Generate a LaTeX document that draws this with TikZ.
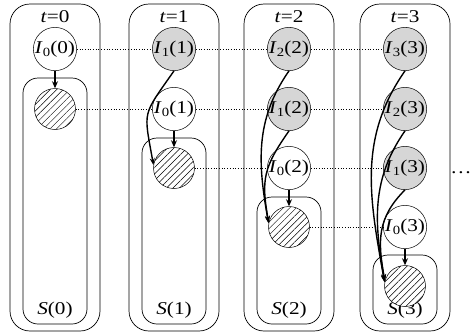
\documentclass[tikz,border=0pt]{standalone}
\usepackage{fontspec}
\setmainfont[FakeStretch=1.18]{Liberation Serif}
\usetikzlibrary{arrows.meta,patterns.meta}
\newcommand\sbs[1]{\raisebox{-0.35ex}{\fontsize{12.5}{12.5}\selectfont #1}}
\newcommand\Il[2]{\textit{I}\sbs{#1}(#2)}
\begin{document}
\begin{tikzpicture}[x=1pt,y=-1pt,
  txt/.style={font=\fontsize{18}{18}\selectfont,inner sep=0pt},
  st/.style={circle,draw,line width=0.5pt,minimum size=40pt,inner sep=0pt,font=\fontsize{18}{18}\selectfont},
  obs/.style={st,fill=black!16},
  hid/.style={st,fill=white},
  hat/.style={circle,draw,line width=0.5pt,minimum size=41pt,inner sep=0pt,preaction={fill=white},pattern={Lines[angle=45,distance=4.6pt,line width=0.5pt]}},
  outerbox/.style={draw,line width=0.7pt,rounded corners=20pt,minimum width=90pt,minimum height=327pt,inner sep=0pt},
  innerbox/.style={draw,line width=0.7pt,rounded corners=15pt,minimum width=64pt,inner sep=0pt},
  dots/.style={dotted,line width=0.7pt},
  sarr/.style={line width=1.2pt,-{Stealth[length=7pt,width=6pt]}},
  carr/.style={line width=1.4pt,-{Stealth[length=7pt,width=5pt]}}]
\useasboundingbox (0,0) rectangle (471,335);
% outer boxes
\node[outerbox] (B0) at (55,167.5) {};
\node[outerbox] (B1) at (174,167.5) {};
\node[outerbox] (B2) at (289,167.5) {};
\node[outerbox] (B3) at (405,167.5) {};
% inner boxes
\node[innerbox,minimum height=246pt] (C0) at (55,201) {};
\node[innerbox,minimum height=186pt] (C1) at (174,231) {};
\node[innerbox,minimum height=127pt] (C2) at (289,260.5) {};
\node[innerbox,minimum height=69pt] (C3) at (405,289.5) {};
% time labels
\node[txt] (T0) at (55,17) {\textit{t}=0};
\node[txt] (T1) at (174,17) {\textit{t}=1};
\node[txt] (T2) at (289,17) {\textit{t}=2};
\node[txt] (T3) at (405,17) {\textit{t}=3};
\node[txt] (S0) at (55,310) {\textit{S}(0)};
\node[txt] (S1) at (174,310) {\textit{S}(1)};
\node[txt] (S2) at (289,310) {\textit{S}(2)};
\node[txt] (S3) at (405,310) {\textit{S}(3)};
% column 0
\node[hid] (I00) at (55,49) {\Il{0}{0}};
\node[hat] (H0) at (55,109) {};
% column 1
\node[obs] (I11) at (174,49) {\Il{1}{1}};
\node[hid] (I01) at (174,109) {\Il{0}{1}};
\node[hat] (H1) at (174,168) {};
% column 2
\node[obs] (I22) at (289,49) {\Il{2}{2}};
\node[obs] (I12) at (289,109) {\Il{1}{2}};
\node[hid] (I02) at (289,168) {\Il{0}{2}};
\node[hat] (H2) at (289,227) {};
% column 3
\node[obs] (I33) at (405,49) {\Il{3}{3}};
\node[obs] (I23) at (405,109) {\Il{2}{3}};
\node[obs] (I13) at (405,168) {\Il{1}{3}};
\node[hid] (I03) at (405,227) {\Il{0}{3}};
\node[hat] (H3) at (405,286) {};
\node[txt,anchor=base] (E) at (461,173) {\dots};
% dotted links
\draw[dots] (I00.east) -- (I11.west);
\draw[dots] (I11.east) -- (I22.west);
\draw[dots] (I22.east) -- (I33.west);
\draw[dots] (H0.east) -- (I01.west);
\draw[dots] (I01.east) -- (I12.west);
\draw[dots] (I12.east) -- (I23.west);
\draw[dots] (H1.east) -- (I02.west);
\draw[dots] (I02.east) -- (I13.west);
\draw[dots] (H2.east) -- (I03.west);
% straight arrows
\draw[sarr] (I00.south) -- (H0.north);
\draw[sarr] (I01.south) -- (H1.north);
\draw[sarr] (I02.south) -- (H2.north);
\draw[sarr] (I03.south) -- (H3.north);
% curved arrows
\draw[carr] (I11.south) to[out=-125,in=100,looseness=1.5] (H1.172);
\draw[carr] (I22.south) to[out=-125,in=100] (H2.170);
\draw[carr] (I12.south) to[out=-125,in=100,looseness=1.2] (H2.168);
\draw[carr] (I33.south) to[out=-125,in=100] (H3.170);
\draw[carr] (I23.south) to[out=-125,in=100] (H3.168);
\draw[carr] (I13.south) to[out=-135,in=100,looseness=1.1] (H3.166);
\end{tikzpicture}
\end{document}
